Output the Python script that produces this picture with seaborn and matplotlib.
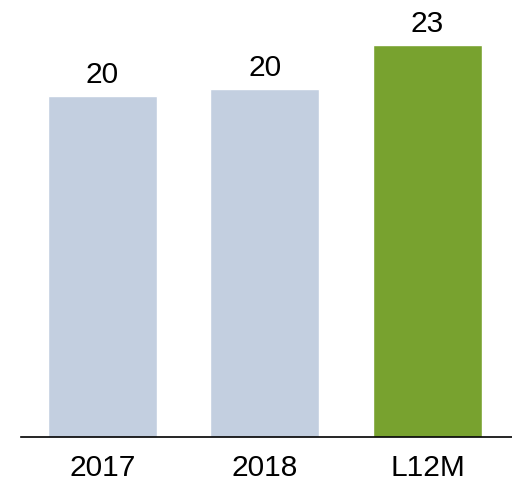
import pandas as pd
import seaborn as sns
import matplotlib
import matplotlib.pyplot as plt

matplotlib.use("Agg")

# data
periods = ["2017", "2018", "L12M"]
values = [20.0, 20.4, 23.0]
bar_colors = ["#C3CFE0", "#C3CFE0", "#78A22F"]

df = pd.DataFrame({"period": periods, "value": values})

sns.set_style("white")
plt.rcParams["font.family"] = ["Liberation Sans", "DejaVu Sans"]
plt.rcParams["text.color"] = "black"

fig = plt.figure(figsize=(5.12, 4.83), dpi=100)
ax = fig.add_axes([21 / 512, 46 / 483, 491 / 512, 437 / 483])

sns.barplot(data=df, x="period", y="value", hue="period",
            palette=bar_colors, width=0.67, saturation=1,
            legend=False, ax=ax)

for cont in ax.containers:
    ax.bar_label(cont, fmt="%.0f", padding=5, fontsize=21.5, color="black")

ax.set_xlim(-0.5, 2.52)
ax.set_ylim(0, 25.64)
ax.set_xlabel("")
ax.set_ylabel("")
ax.set_yticks([])
ax.tick_params(axis="x", length=0, pad=12, labelsize=21.5, labelcolor="black")

sns.despine(ax=ax, left=True)
ax.spines["bottom"].set_color("black")
ax.spines["bottom"].set_linewidth(1.2)

plt.savefig("out.png", dpi=100)
